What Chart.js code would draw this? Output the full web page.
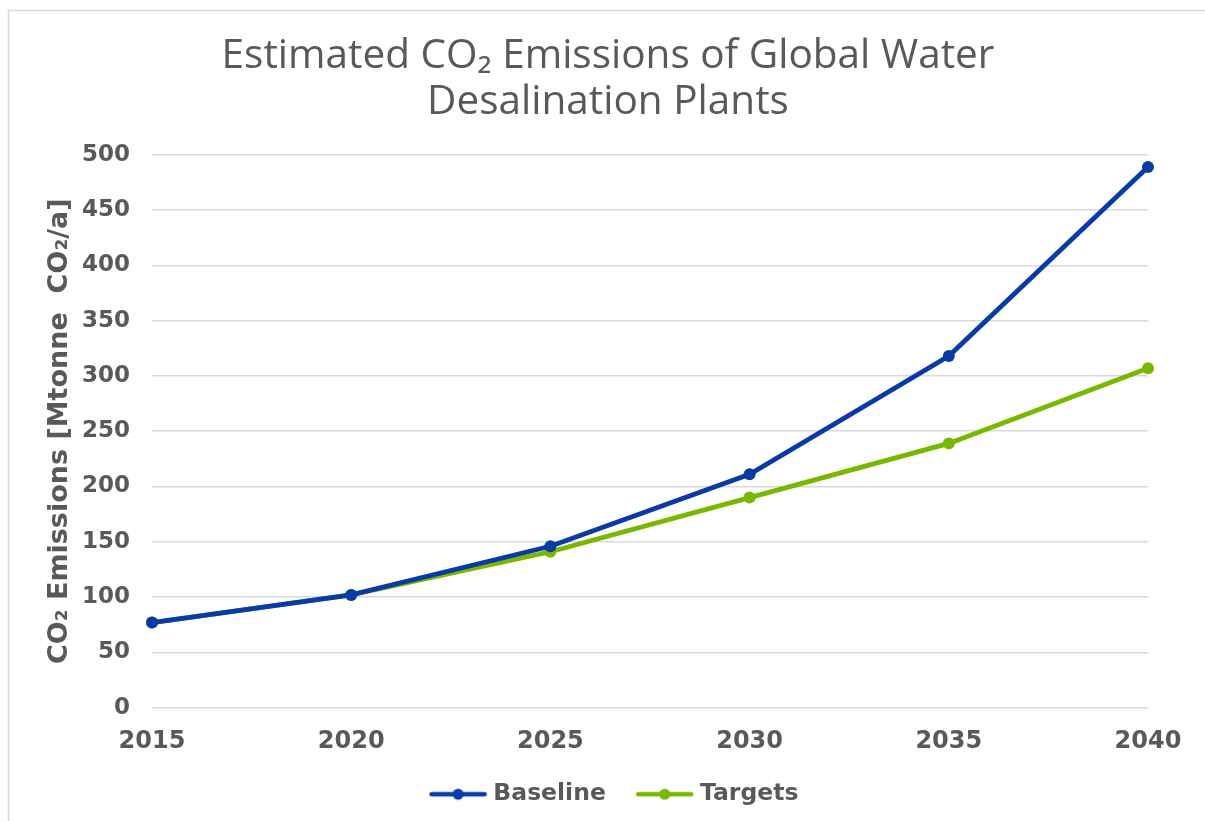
<!DOCTYPE html>
<html>
<head>
<meta charset="utf-8">
<script src="https://cdn.jsdelivr.net/npm/chart.js@4.4.1/dist/chart.umd.min.js"></script>
<style>
html,body{margin:0;padding:0;background:#fff;}
#wrap{width:1205px;height:821px;position:relative;}
</style>
</head>
<body>
<div id="wrap"><canvas id="c" width="1205" height="821"></canvas></div>
<script>
const years = ['2015','2020','2025','2030','2035','2040'];
const baseline = [77, 102, 146, 211, 318, 489];
const targets = [77, 102, 141, 190, 239, 307];
const titleLines = ['Estimated CO\u2082 Emissions of Global Water', 'Desalination Plants'];
const yTitle = 'CO\u2082 Emissions [Mtonne  CO\u2082/a]';

const BLUE = '#0a3aa6';
const GREEN = '#78b800';
const GRAY = '#595959';
const FONT = '"DejaVu Sans", Verdana, sans-serif';

function legendIcon(color){
  const c = document.createElement('canvas');
  c.width = 62; c.height = 14;
  const x = c.getContext('2d');
  x.strokeStyle = color; x.lineWidth = 4.5; x.lineCap = 'round';
  x.beginPath(); x.moveTo(6,7); x.lineTo(59,7); x.stroke();
  x.fillStyle = color; x.beginPath(); x.arc(32.5,7,5.5,0,Math.PI*2); x.fill();
  return c;
}

const framePlugin = {
  id:'frame',
  afterLayout(chart){
    if (chart.titleBlock) chart.titleBlock.left += 22;
    if (chart.legend) { chart.legend.left += 36; chart.legend.top -= 2; chart.legend.bottom -= 2; }
  },
  beforeDraw(chart){
    const ctx = chart.ctx;
    ctx.save();
    ctx.fillStyle = '#fff';
    ctx.fillRect(0,0,chart.width,chart.height);
    ctx.strokeStyle = '#d9d9d9';
    ctx.lineWidth = 1.5;
    ctx.beginPath();
    ctx.moveTo(8.5, 830); ctx.lineTo(8.5, 10.5); ctx.lineTo(1210, 10.5);
    ctx.stroke();
    ctx.restore();
  }
};

new Chart(document.getElementById('c'), {
  type:'line',
  data:{
    labels: years,
    datasets:[
      {label:'Baseline', data: baseline, borderColor: BLUE, backgroundColor: BLUE, borderWidth:4.8,
       pointRadius:6, pointHoverRadius:6, pointBackgroundColor: BLUE, pointBorderWidth:0, tension:0},
      {label:'Targets', data: targets, borderColor: GREEN, backgroundColor: GREEN, borderWidth:4.8,
       pointRadius:6, pointHoverRadius:6, pointBackgroundColor: GREEN, pointBorderWidth:0, tension:0}
    ]
  },
  options:{
    responsive:false,
    animation:false,
    devicePixelRatio:1,
    layout:{padding:{left:46, right:57, top:22, bottom:3}},
    plugins:{
      title:{display:true, text:titleLines, color:GRAY,
        font:{family:'"Open Sans", "Noto Sans", sans-serif', size:40.5, weight:'normal', lineHeight:1.12},
        padding:{top:12, bottom:30}},
      legend:{display:true, position:'bottom',
        labels:{
          color:GRAY, usePointStyle:true, pointStyleWidth:50, boxHeight:14,
          font:{family:FONT, size:23.5, weight:'bold'},
          padding:16,
          generateLabels(chart){
            return chart.data.datasets.map((ds,i)=>({
              text: i < chart.data.datasets.length - 1 ? ds.label + '  ' : ds.label,
              fillStyle: ds.borderColor, strokeStyle: ds.borderColor,
              fontColor: GRAY, lineWidth:0, hidden:false, datasetIndex:i,
              pointStyle: legendIcon(ds.borderColor)
            }));
          }
        }
      },
      tooltip:{enabled:false}
    },
    scales:{
      x:{
        offset:false,
        grid:{display:false},
        border:{display:false},
        ticks:{color:GRAY, font:{family:FONT, size:24, weight:'bold'}, padding:12, maxRotation:0}
      },
      y:{
        min:0, max:500,
        afterFit(scale){ scale.width -= 23; },
        ticks:{stepSize:50, color:GRAY, font:{family:FONT, size:23, weight:'bold'}, padding:22},
        grid:{color:'#d9d9d9', lineWidth:1.5, drawTicks:false},
        border:{display:false},
        title:{display:true, text:yTitle, color:GRAY,
          font:{family:FONT, size:27, weight:'bold', lineHeight:1}, padding:{top:0, bottom:10}}
      }
    }
  },
  plugins:[framePlugin]
});
</script>
</body>
</html>
